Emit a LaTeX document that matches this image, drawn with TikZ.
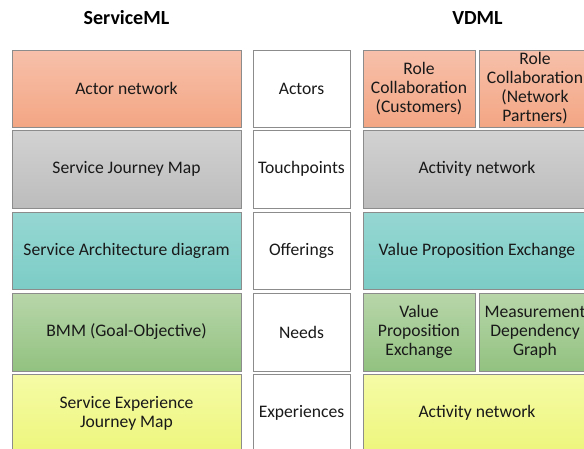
\documentclass[tikz,border=0pt]{standalone}
\usepackage{fontspec}
\setmainfont{Carlito}
\definecolor{txt}{RGB}{25,25,25}
\definecolor{edge}{RGB}{140,140,140}
\definecolor{orT}{RGB}{247,192,170}
\definecolor{orB}{RGB}{243,166,132}
\definecolor{grT}{RGB}{210,210,210}
\definecolor{grB}{RGB}{188,188,188}
\definecolor{tlT}{RGB}{150,215,210}
\definecolor{tlB}{RGB}{124,204,198}
\definecolor{gnT}{RGB}{184,214,170}
\definecolor{gnB}{RGB}{146,194,128}
\definecolor{ylT}{RGB}{245,251,165}
\definecolor{ylB}{RGB}{237,246,125}
\tikzset{
  cell/.style={draw=edge, line width=0.8pt, align=center, text=txt,
    font=\fontsize{17.6}{19}\selectfont, inner sep=0pt, anchor=center},
  orange/.style={cell, top color=orT, bottom color=orB},
  grey/.style={cell, top color=grT, bottom color=grB},
  teal/.style={cell, top color=tlT, bottom color=tlB},
  green/.style={cell, top color=gnT, bottom color=gnB},
  yellow/.style={cell, top color=ylT, bottom color=ylB},
  plain/.style={cell, fill=white},
  wl/.style={minimum width=229pt},
  wm/.style={minimum width=97pt},
  wr/.style={minimum width=228pt},
  ws/.style={minimum width=112pt},
  title/.style={font=\bfseries\fontsize{20}{24}\selectfont, text=black}
}
\begin{document}
\begin{tikzpicture}[x=1pt,y=-1pt]
\useasboundingbox (0,0) rectangle (584,448);
\clip (0,0) rectangle (584,448);
\fill[white] (0,0) rectangle (584,448);
\node[title] (t1) at (126.5,18) {ServiceML};
\node[title] (t2) at (477.5,18) {VDML};
% row 1
\node[orange, wl, minimum height=77pt] (l1) at (126.5,88.5) {Actor network};
\node[plain, wm, minimum height=77pt] (m1) at (301.5,88.5) {Actors};
\node[orange, ws, minimum height=77pt] (r1a) at (419,88.5) {Role\\Collaboration\\(Customers)};
\node[orange, ws, minimum height=77pt] (r1b) at (535,88.5) {Role\\Collaboration\\(Network\\Partners)};
% row 2
\node[grey, wl, minimum height=77.5pt] (l2) at (126.5,169.25) {Service Journey Map};
\node[plain, wm, minimum height=77.5pt] (m2) at (301.5,169.25) {Touchpoints};
\node[grey, wr, minimum height=77.5pt] (r2) at (477,169.25) {Activity network};
% row 3
\node[teal, wl, minimum height=77pt] (l3) at (126.5,251) {Service Architecture diagram};
\node[plain, wm, minimum height=77pt] (m3) at (301.5,251) {Offerings};
\node[teal, wr, minimum height=77pt] (r3) at (477,251) {Value Proposition Exchange};
% row 4
\node[green, wl, minimum height=78pt] (l4) at (126.5,332) {BMM (Goal-Objective)};
\node[plain, wm, minimum height=78pt] (m4) at (301.5,332) {Needs};
\node[green, ws, minimum height=78pt] (r4a) at (419,332) {Value\\Proposition\\Exchange};
\node[green, ws, minimum height=78pt] (r4b) at (535,332) {Measurement\\Dependency\\Graph};
% row 5
\node[yellow, wl, minimum height=77pt] (l5) at (126.5,413) {Service Experience\\Journey Map};
\node[plain, wm, minimum height=77pt] (m5) at (301.5,413) {Experiences};
\node[yellow, wr, minimum height=77pt] (r5) at (477,413) {Activity network};
\end{tikzpicture}
\end{document}
